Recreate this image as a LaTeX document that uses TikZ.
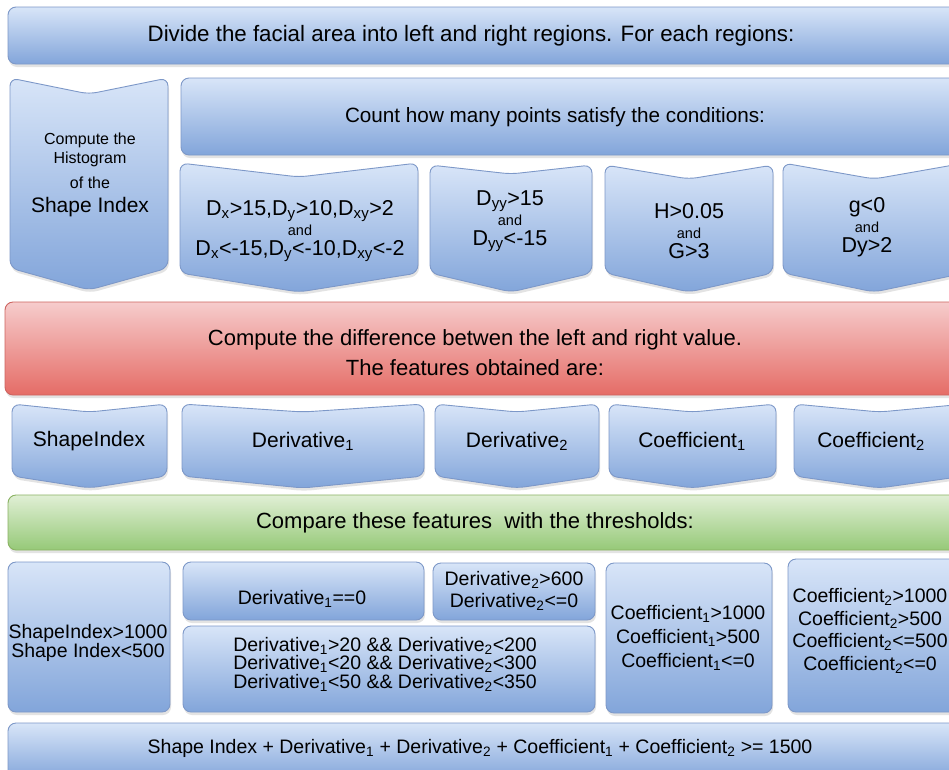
\documentclass[tikz,border=0pt]{standalone}
\usepackage{fontspec}
\setmainfont{Liberation Sans}
\usetikzlibrary{shadows}
\definecolor{bluetop}{RGB}{216,229,248}
\definecolor{bluebot}{RGB}{130,165,218}
\definecolor{blueline}{RGB}{125,152,200}
\definecolor{redtop}{RGB}{246,204,204}
\definecolor{redbot}{RGB}{229,108,102}
\definecolor{redline}{RGB}{205,100,96}
\definecolor{greentop}{RGB}{224,239,213}
\definecolor{greenbot}{RGB}{150,201,120}
\definecolor{greenline}{RGB}{138,178,98}
\newcommand{\lowidx}[1]{\textsubscript{#1}}
\newcommand{\fs}[2]{\fontsize{#1}{#2}\selectfont}
% chevron: x1, y1, x2, y2, notch depth, point depth
\newcommand{\chevbox}[6]{%
  \path[bluebox] (#1,#2) -- ({(#1+#3)/2},{#2+#5}) -- (#3,#2) -- (#3,{#4-#6})
    -- ({(#1+#3)/2},#4) -- (#1,{#4-#6}) -- cycle;}
\begin{document}
\begin{tikzpicture}[x=1pt,y=-1pt,
  every node/.style={align=center,inner sep=0pt},
  shade/.style={rounded corners=8pt,line width=0.9pt,
    drop shadow={opacity=0.22,shadow xshift=1pt,shadow yshift=-3pt}},
  bluebox/.style={shade,draw=blueline,top color=bluetop,bottom color=bluebot},
  redbox/.style={shade,draw=redline,top color=redtop,bottom color=redbot},
  greenbox/.style={shade,draw=greenline,top color=greentop,bottom color=greenbot},
  cond/.style={font={\fs{21.5}{20}}},
  thr/.style={font={\fs{19.5}{18.5}}}]
\useasboundingbox[fill=white] (0,0) rectangle (949,769);
\begin{scope}
\clip (0,0) rectangle (949,769);
\path[bluebox] (8,7) rectangle (965,64);
\node[font={\fs{22.3}{24}}] (divide) at (471,36) {Divide the facial area into left and right regions. For each regions:};

\chevbox{10}{78}{168}{290}{16}{22}
\node[font={\fs{16}{19}}] (histo) at (90,175) {Compute the\\Histogram\\[6pt]of the\\[5pt]{\fs{21}{24}Shape Index}};
\path[bluebox] (181,78) rectangle (965,155);
\node[font={\fs{20.7}{24}}] (count) at (555,117) {Count how many points satisfy the conditions:};

\chevbox{180}{163}{418}{292}{14}{19}
\chevbox{430}{165}{592}{292}{9}{19}
\chevbox{605}{165}{773}{292}{14}{19}
\chevbox{783}{163}{965}{292}{16}{19}
\node[cond] (cond1) at (300,231) {D\lowidx{x}>15,D\lowidx{y}>10,D\lowidx{xy}>2\\{\fs{14.5}{18}and}\\D\lowidx{x}<-15,D\lowidx{y}<-10,D\lowidx{xy}<-2};
\node[cond] (cond2) at (510,221) {D\lowidx{yy}>15\\{\fs{14.5}{18}and}\\D\lowidx{yy}<-15};
\node[cond] (cond3) at (689,231) {H>0.05\\{\fs{14.5}{18}and}\\G>3};
\node[cond] (cond4) at (867,227) {g<0\\{\fs{14.5}{18}and}\\Dy>2};

\path[redbox] (5,302) rectangle (965,395);
\node[font={\fs{22}{30}}] (diff) at (475,353) {Compute the difference betwen the left and right value.\\The features obtained are:};

\chevbox{12}{404}{167}{488}{8}{12}
\chevbox{182}{404}{424}{488}{8}{12}
\chevbox{435}{404}{599}{488}{8}{12}
\chevbox{609}{404}{776}{488}{8}{12}
\chevbox{794}{404}{965}{488}{8}{12}
\node[font={\fs{21}{24}}] (fshape) at (89,441) {ShapeIndex};
\node[font={\fs{21}{24}}] (fder1) at (303,441) {Derivative\lowidx{1}};
\node[font={\fs{21}{24}}] (fder2) at (517,441) {Derivative\lowidx{2}};
\node[font={\fs{21}{24}}] (fcoef1) at (692,441) {Coefficient\lowidx{1}};
\node[font={\fs{21}{24}}] (fcoef2) at (871,441) {Coefficient\lowidx{2}};

\path[greenbox] (8,495) rectangle (965,550);
\node[font={\fs{22}{24}}] (compare) at (475,523) {Compare these features~ with the thresholds:};

\path[bluebox] (8,562) rectangle (170,712);
\path[bluebox] (183,562) rectangle (424,620);
\path[bluebox] (433,563) rectangle (595,620);
\path[bluebox] (183,626) rectangle (595,712);
\path[bluebox] (606,563) rectangle (772,713);
\path[bluebox] (788,559) rectangle (975,712);
\node[thr,font={\fs{19.5}{17.5}}] (tshape) at (88,643) {ShapeIndex>1000\\Shape Index<500};
\node[thr] (tder1) at (302,599) {Derivative\lowidx{1}==0};
\node[thr,font={\fs{19.5}{22}}] (tder2) at (514,591) {Derivative\lowidx{2}>600\\Derivative\lowidx{2}<=0};
\node[thr] (tderb) at (385,664) {Derivative\lowidx{1}>20 \&\& Derivative\lowidx{2}<200\\Derivative\lowidx{1}<20 \&\& Derivative\lowidx{2}<300\\Derivative\lowidx{1}<50 \&\& Derivative\lowidx{2}<350};
\node[thr,font={\fs{19.5}{24}}] (tcoef1) at (688,638) {Coefficient\lowidx{1}>1000\\Coefficient\lowidx{1}>500\\Coefficient\lowidx{1}<=0};
\node[thr,font={\fs{19.5}{22.5}}] (tcoef2) at (870,631) {Coefficient\lowidx{2}>1000\\Coefficient\lowidx{2}>500\\Coefficient\lowidx{2}<=500\\Coefficient\lowidx{2}<=0};

\path[bluebox] (8,723) rectangle (965,780);
\node[font={\fs{19.5}{22}}] (total) at (480,748) {Shape Index + Derivative\lowidx{1} + Derivative\lowidx{2} + Coefficient\lowidx{1} + Coefficient\lowidx{2} >= 1500};
\end{scope}
\end{tikzpicture}
\end{document}
